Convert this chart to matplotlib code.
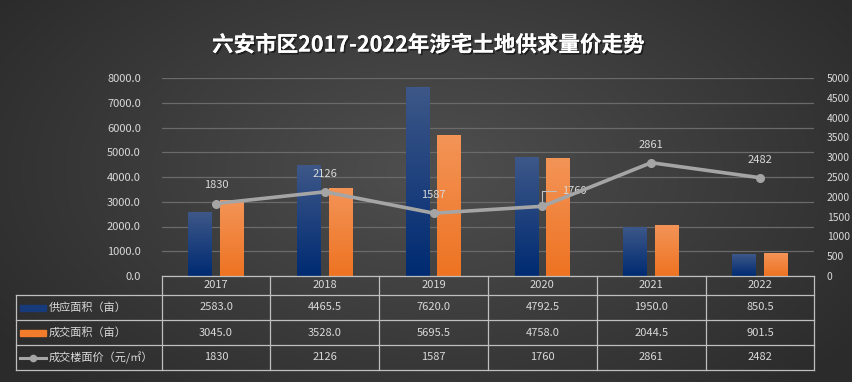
import numpy as np
import matplotlib
matplotlib.use("Agg")
import matplotlib.pyplot as plt
import matplotlib.patheffects as pe
from matplotlib.lines import Line2D
from matplotlib.patches import Rectangle

plt.rcParams['font.family'] = ['Noto Sans CJK SC', 'DejaVu Sans']

years = ['2017', '2018', '2019', '2020', '2021', '2022']
supply = [2583.0, 4465.5, 7620.0, 4792.5, 1950.0, 850.5]
deal = [3045.0, 3528.0, 5695.5, 4758.0, 2044.5, 901.5]
price = [1830, 2126, 1587, 1760, 2861, 2482]
row_labels = ['供应面积（亩）', '成交面积（亩）', '成交楼面价（元/㎡）']
title = '六安市区2017-2022年涉宅土地供求量价走势'

W, H = 852, 382
fig = plt.figure(figsize=(W / 100, H / 100), dpi=100)

# background: soft radial gradient
bg = fig.add_axes([0, 0, 1, 1], zorder=0)
yy, xx = np.mgrid[0:H, 0:W]
r = np.sqrt(((xx - 430) / 520) ** 2 + ((yy - 170) / 300) ** 2)
shade = np.clip(0.31 - 0.14 * r, 0.17, 0.31)
bg.imshow(np.dstack([shade] * 3), extent=[0, W, H, 0], aspect='auto')
bg.set_xlim(0, W)
bg.set_ylim(H, 0)
bg.axis('off')

# plot area in pixels
x0, x1 = 161.7, 814.3
y_top, y_bot = 78, 276
ax = fig.add_axes([x0 / W, (H - y_bot) / H, (x1 - x0) / W, (y_bot - y_top) / H], zorder=1)
ax.patch.set_alpha(0)
ax2 = ax.twinx()

txt_col = '#d9d9d9'
x = np.arange(len(years))
bw = 0.22
off = 0.145


def grad_bars(axis, xs, vals, top, bottom):
    bars = axis.bar(xs, vals, bw, color='none', zorder=2)
    g = np.linspace(0, 1, 64)[:, None]
    top = np.array(matplotlib.colors.to_rgb(top))
    bottom = np.array(matplotlib.colors.to_rgb(bottom))
    img = top[None, None, :] * (1 - g[..., None]) + bottom[None, None, :] * g[..., None]
    for b in bars:
        bx, by = b.get_x(), b.get_y()
        axis.imshow(img, extent=[bx, bx + b.get_width(), by, by + b.get_height()],
                    aspect='auto', zorder=2, origin='upper')
    return bars


grad_bars(ax, x - off, supply, '#3d5788', '#002b72')
grad_bars(ax, x + off, deal, '#f39457', '#ee7322')

ax.set_xlim(-0.5, len(years) - 0.5)
ax.set_ylim(0, 8000)
ax.set_yticks(np.arange(0, 8001, 1000))
ax.set_yticklabels([f'{v:.1f}' for v in np.arange(0, 8001, 1000)])
ax.yaxis.grid(True, color='#6a6a6a', lw=0.9)
ax.set_axisbelow(True)
ax.set_xticks([])
for s in ax.spines.values():
    s.set_visible(False)
ax.tick_params(axis='y', length=0, pad=15, labelsize=8, labelcolor=txt_col)

ax2.plot(x, price, color='#a5a5a5', lw=2.6, marker='o', ms=5.5, zorder=4)
ax2.set_ylim(0, 5000)
ax2.set_yticks(np.arange(0, 5001, 500))
ax2.tick_params(axis='y', length=0, pad=9, labelsize=7.5, labelcolor=txt_col)
for s in ax2.spines.values():
    s.set_visible(False)
for i, v in enumerate(price):
    if years[i] == '2020':
        ax2.annotate(str(v), (i, v), xytext=(14, 11), textcoords='offset points',
                     color=txt_col, fontsize=8, ha='left', va='center',
                     arrowprops=dict(arrowstyle='-', color='#bfbfbf', lw=0.8,
                                     connectionstyle='angle,angleA=0,angleB=90,rad=0',
                                     shrinkA=2, shrinkB=3))
    else:
        ax2.annotate(str(v), (i, v), xytext=(0, 13), textcoords='offset points',
                     color=txt_col, fontsize=8, ha='center', va='center')

# title
fig.text(428 / W, 1 - 45 / H, title, color='white', fontsize=15.5, fontweight='bold',
         ha='center', va='center',
         path_effects=[pe.withSimplePatchShadow(offset=(1.2, -1.2), shadow_rgbFace='black', alpha=0.5),
                       pe.Normal()])

# data table under the plot
tb = fig.add_axes([0, 0, 1, 1], zorder=3)
tb.patch.set_alpha(0)
tb.set_xlim(0, W)
tb.set_ylim(H, 0)
tb.axis('off')
lc = '#bfbfbf'
left = 16
rows = [276, 295, 320, 345, 370]
cw = (x1 - x0) / len(years)
cols = [x0 + cw * k for k in range(len(years) + 1)]
tb.plot([x0, x1], [rows[0], rows[0]], color=lc, lw=0.9)
for ry in rows[1:]:
    tb.plot([left, x1], [ry, ry], color=lc, lw=0.9)
tb.plot([left, left], [rows[1], rows[-1]], color=lc, lw=0.9)
for cx in cols:
    tb.plot([cx, cx], [rows[0], rows[-1]], color=lc, lw=0.9)
for k, yr in enumerate(years):
    cxm = (cols[k] + cols[k + 1]) / 2
    tb.text(cxm, (rows[0] + rows[1]) / 2, yr, color=txt_col, fontsize=8, ha='center', va='center')
    tb.text(cxm, (rows[1] + rows[2]) / 2, f'{supply[k]:.1f}', color=txt_col, fontsize=8, ha='center', va='center')
    tb.text(cxm, (rows[2] + rows[3]) / 2, f'{deal[k]:.1f}', color=txt_col, fontsize=8, ha='center', va='center')
    tb.text(cxm, (rows[3] + rows[4]) / 2, str(price[k]), color=txt_col, fontsize=8, ha='center', va='center')

for j, lab in enumerate(row_labels):
    ym = (rows[j + 1] + rows[j + 2]) / 2
    if j < 2:
        tb.add_patch(Rectangle((20, ym - 3), 26, 6, color=['#173a7a', '#f07c2c'][j]))
    else:
        tb.add_line(Line2D([20, 46], [ym, ym], color='#a5a5a5', lw=2.2))
        tb.plot([33], [ym], 'o', color='#a5a5a5', ms=4.5)
    tb.text(49, ym, lab, color=txt_col, fontsize=8, ha='left', va='center')

fig.savefig('out.png', dpi=100)
